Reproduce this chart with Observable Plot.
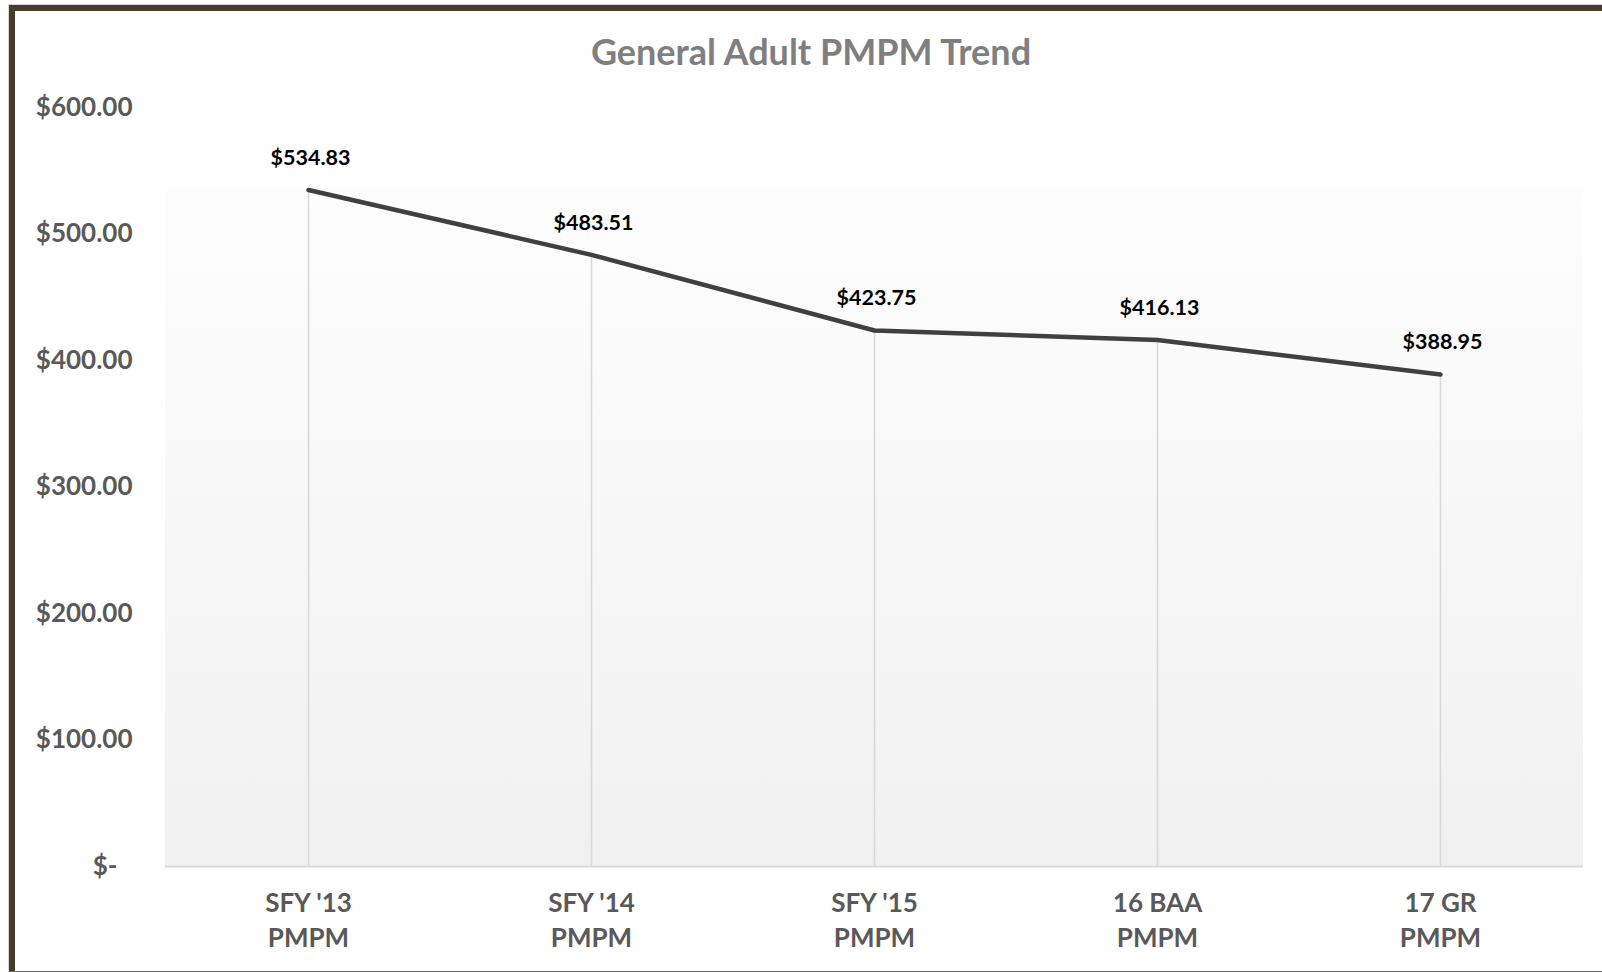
<!DOCTYPE html>
<html>
<head>
<meta charset="utf-8">
<script src="https://cdn.jsdelivr.net/npm/d3@7"></script>
<script src="https://cdn.jsdelivr.net/npm/@observablehq/plot@0.6"></script>
<style>
  html, body { margin: 0; padding: 0; background: #fff; }
  #wrap { position: relative; width: 1602px; height: 972px; overflow: hidden; background: #fff; }
  #chart { position: absolute; left: 0; top: 0; }
  #title { position: absolute; left: 811px; top: 33px; transform: translateX(-50%); white-space: nowrap;
           font-family: Lato, "Open Sans", sans-serif; font-weight: 700; font-size: 36px; line-height: 36px; color: #7f7f7f; }
  .bd { position: absolute; }
</style>
</head>
<body>
<div id="wrap">
  <div id="chart"></div>
  <div id="title">General Adult PMPM Trend</div>
  <div class="bd" style="left:8px; top:4px; width:1594px; height:1px; background:#d6d6d6;"></div>
  <div class="bd" style="left:8px; top:4px; width:1px; height:968px; background:#d6d6d6;"></div>
  <div class="bd" style="left:9px; top:5px; width:1593px; height:6px; background:#483d2b;"></div>
  <div class="bd" style="left:9px; top:5px; width:6px; height:967px; background:#483d2b;"></div>
  <div class="bd" style="left:9px; top:971px; width:1593px; height:1px; background:#6b6b6b;"></div>
</div>
<script>
const categories = ["SFY '13\nPMPM", "SFY '14\nPMPM", "SFY '15\nPMPM", "16 BAA\nPMPM", "17 GR\nPMPM"];
const values = [534.83, 483.51, 423.75, 416.13, 388.95];
const yTicks = [0, 100, 200, 300, 400, 500, 600];

const data = categories.map((c, i) => ({category: c, value: values[i]}));
const money = d3.format(",.2f");
const font = "Lato, 'Open Sans', sans-serif";

const background = (index, scales, vals, dimensions) => {
  const g = d3.create("svg:g");
  const grad = g.append("defs").append("linearGradient")
    .attr("id", "plotBg").attr("x1", 0).attr("y1", 0).attr("x2", 0).attr("y2", 1);
  grad.append("stop").attr("offset", "0%").attr("stop-color", "#fdfdfd");
  grad.append("stop").attr("offset", "100%").attr("stop-color", "#f1f1f1");
  const top = scales.y(d3.max(values));
  const bottom = scales.y(0);
  g.append("rect")
    .attr("x", dimensions.marginLeft)
    .attr("width", dimensions.width - dimensions.marginLeft - dimensions.marginRight)
    .attr("y", top)
    .attr("height", bottom - top)
    .attr("fill", "url(#plotBg)");
  return g.node();
};

const chart = Plot.plot({
  width: 1602,
  height: 972,
  marginLeft: 165,
  marginRight: 19,
  marginTop: 107,
  marginBottom: 106,
  style: {fontFamily: font, background: "transparent"},
  x: {type: "point", domain: categories, padding: 0.5},
  y: {domain: [0, 600]},
  marks: [
    background,
    Plot.ruleX(data, {x: "category", y1: 0, y2: "value", stroke: "#d9d9d9", strokeWidth: 1.6}),
    Plot.ruleY([0], {stroke: "#d9d9d9", strokeWidth: 2}),
    Plot.lineY(data, {x: "category", y: "value", stroke: "#404040", strokeWidth: 4.5, strokeLinejoin: "round"}),
    Plot.text(data, {x: "category", y: "value", text: d => "$" + money(d.value), dy: -32, dx: 2,
      fontSize: 21.5, fontWeight: "bold", fill: "#000"}),
    Plot.axisY({ticks: yTicks, tickSize: 0, tickPadding: 33, fontSize: 26, fontWeight: "bold", color: "#595959",
      tickFormat: d => d === 0 ? "$-\u2007" : "$" + money(d), label: null}),
    Plot.axisX({tickSize: 0, tickPadding: 21, fontSize: 26, fontWeight: "bold", color: "#595959",
      lineHeight: 1.33, label: null})
  ]
});
document.getElementById("chart").appendChild(chart);
</script>
</body>
</html>
